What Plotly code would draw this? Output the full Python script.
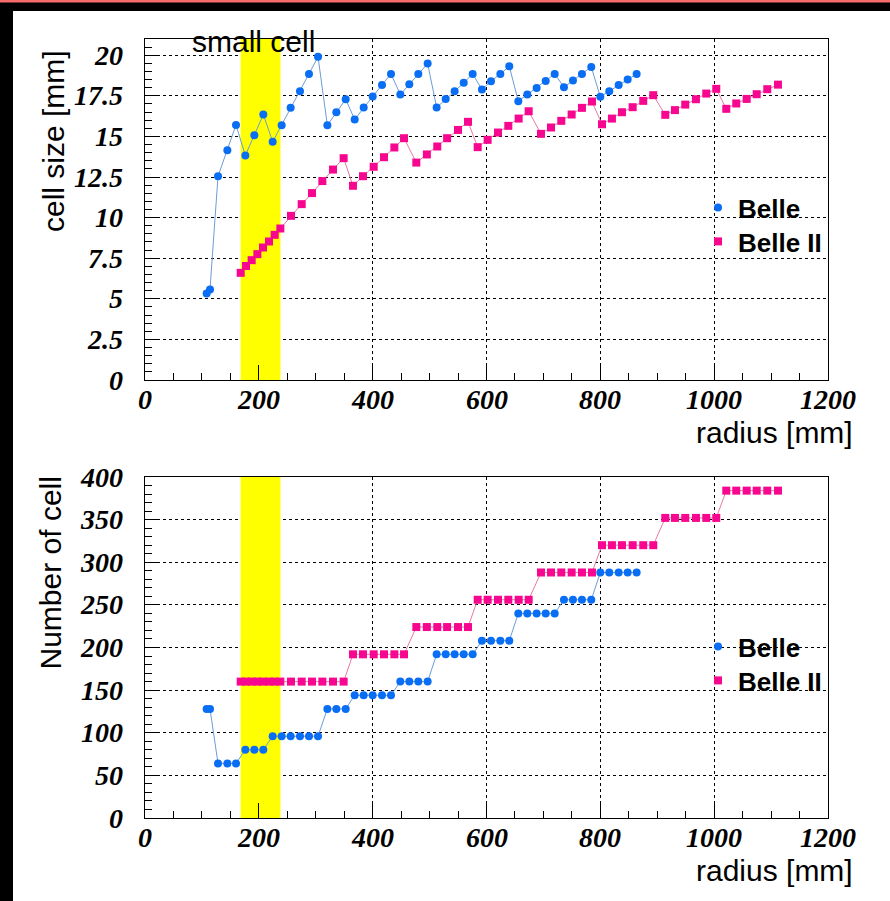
import plotly.graph_objects as go

# ---------------- data ----------------
belle_r = [108.3, 114.2, 128.3, 144.7, 159.9, 176.3, 192.1, 207.9, 224.3, 240.1,
           255.9, 272.3, 288.1, 304.0, 320.4, 336.2, 352.6, 368.4, 384.2, 400.0,
           416.4, 432.2, 448.6, 464.4, 480.2, 496.6, 512.4, 528.3, 544.0, 560.0,
           575.7, 592.0, 607.9, 624.3, 640.0, 655.9, 671.7, 688.1, 704.0, 719.8,
           736.1, 751.9, 767.7, 784.1, 800.0, 815.7, 832.2, 848.0, 863.8]
belle_size = [5.33, 5.58, 12.55, 14.15, 15.71, 13.83, 15.08, 16.35, 14.67, 15.69,
              16.76, 17.78, 18.85, 19.9, 15.69, 16.49, 17.29, 16.04, 16.78, 17.46,
              18.17, 18.85, 17.58, 18.22, 18.85, 19.49, 16.78, 17.31, 17.78, 18.3,
              18.85, 17.89, 18.4, 18.85, 19.32, 17.17, 17.58, 17.99, 18.42, 18.85,
              18.03, 18.44, 18.85, 19.28, 17.44, 17.78, 18.17, 18.5, 18.85]
belle_ncell = [128, 128, 64, 64, 64, 80, 80, 80, 96, 96,
               96, 96, 96, 96, 128, 128, 128, 144, 144, 144,
               144, 144, 160, 160, 160, 160, 192, 192, 192, 192,
               192, 208, 208, 208, 208, 240, 240, 240, 240, 240,
               256, 256, 256, 256, 288, 288, 288, 288, 288]

belle2_r = [168.1, 177.5, 187.4, 197.4, 207.3, 217.9, 227.8, 237.8, 256.5, 275.3,
            293.4, 311.6, 330.3, 349.0, 365.4, 383.0, 401.8, 419.9, 438.1, 455.1,
            476.7, 495.2, 513.5, 530.8, 549.9, 567.5, 584.5, 602.0, 620.2, 638.3,
            656.5, 674.1, 695.7, 713.3, 731.4, 749.6, 767.7, 785.3, 802.9, 820.4,
            838.0, 856.8, 875.4, 893.0, 914.1, 931.1, 949.2, 968.0, 986.1, 1003.7,
            1021.3, 1038.8, 1057.1, 1074.7, 1093.3, 1112.1]
belle2_size = [6.6, 7.02, 7.38, 7.75, 8.16, 8.53, 8.94, 9.33, 10.11, 10.83,
               11.51, 12.25, 12.96, 13.66, 11.96, 12.55, 13.13, 13.72, 14.32, 14.89,
               13.39, 13.89, 14.38, 14.89, 15.4, 15.9, 14.34, 14.79, 15.24, 15.65,
               16.1, 16.55, 15.16, 15.55, 15.96, 16.35, 16.76, 17.15, 15.75, 16.1,
               16.49, 16.8, 17.19, 17.54, 16.33, 16.62, 16.96, 17.29, 17.64, 17.93,
               16.7, 17.03, 17.31, 17.6, 17.91, 18.19]
belle2_ncell = [160, 160, 160, 160, 160, 160, 160, 160, 160, 160,
                160, 160, 160, 160, 192, 192, 192, 192, 192, 192,
                224, 224, 224, 224, 224, 224, 256, 256, 256, 256,
                256, 256, 288, 288, 288, 288, 288, 288, 320, 320,
                320, 320, 320, 320, 352, 352, 352, 352, 352, 352,
                384, 384, 384, 384, 384, 384]

small_cell_range = [168, 238]
x_range = [0, 1200]
size_range = [0, 21]
ncell_range = [0, 400]
x_ticks = [0, 200, 400, 600, 800, 1000, 1200]
size_ticks = [0, 2.5, 5, 7.5, 10, 12.5, 15, 17.5, 20]
ncell_ticks = [0, 50, 100, 150, 200, 250, 300, 350, 400]

# ---------------- style ----------------
W, H = 890, 901
BLUE_M, BLUE_L = "#0a6ef5", "#6b9dd6"
PINK_M, PINK_L = "#f7078f", "#e67aa6"
YELLOW = "#ffff00"
tickfont = dict(family="Liberation Serif", size=28, color="black", weight="bold", style="italic")
labfont = dict(family="Liberation Sans", size=30, color="black")
legfont = dict(family="Liberation Sans", size=26, color="black", weight="bold")

def px_x(p):
    return p / W

def px_y(p):
    return 1 - p / H

fig = go.Figure()

# small-cell bands (drawn as filled traces so they sit above the grid, below the data)
for xa, ya, rng in (("x", "y", size_range), ("x2", "y2", ncell_range)):
    a, b = small_cell_range
    fig.add_trace(go.Scatter(x=[a, b, b, a, a], y=[rng[0], rng[0], rng[1], rng[1], rng[0]],
                             xaxis=xa, yaxis=ya, mode="lines", fill="toself",
                             fillcolor=YELLOW, line=dict(width=0, color=YELLOW),
                             showlegend=False, hoverinfo="skip"))

def add_series(x, y, xa, ya, name, mcol, lcol, sym, legend):
    fig.add_trace(go.Scatter(x=x, y=y, xaxis=xa, yaxis=ya, mode="lines+markers",
                             line=dict(color=lcol, width=1),
                             marker=dict(color=mcol, size=8, symbol=sym, line=dict(width=0)),
                             showlegend=False, hoverinfo="x+y"))
    fig.add_trace(go.Scatter(x=[None], y=[None], xaxis=xa, yaxis=ya, mode="markers",
                             marker=dict(color=mcol, size=8, symbol=sym, line=dict(width=0)),
                             name=name, legend=legend, showlegend=True))

add_series(belle_r, belle_size, "x", "y", "Belle", BLUE_M, BLUE_L, "circle", "legend")
add_series(belle2_r, belle2_size, "x", "y", "Belle II", PINK_M, PINK_L, "square", "legend3")
add_series(belle_r, belle_ncell, "x2", "y2", "Belle", BLUE_M, BLUE_L, "circle", "legend2")
add_series(belle2_r, belle2_ncell, "x2", "y2", "Belle II", PINK_M, PINK_L, "square", "legend4")

xdom = [px_x(145), px_x(828)]
top_dom = [px_y(380), px_y(39)]
bot_dom = [px_y(818), px_y(477)]

def xaxis_cfg(anchor):
    return dict(domain=xdom, anchor=anchor, range=x_range, tickvals=x_ticks,
                ticks="inside", ticklen=15, tickcolor="black", tickwidth=1,
                minor=dict(dtick=50, tick0=0, ticks="inside", ticklen=7, tickcolor="black", showgrid=False),
                showline=True, linecolor="black", linewidth=1, mirror=True, layer="above traces",
                showgrid=True, gridcolor="black", griddash="dot", gridwidth=1,
                showticklabels=False, zeroline=False, fixedrange=True)

def yaxis_cfg(anchor, dom, rng, tv, minor_dt):
    return dict(domain=dom, anchor=anchor, range=rng, tickvals=tv,
                ticks="inside", ticklen=15, tickcolor="black", tickwidth=1,
                minor=dict(dtick=minor_dt, tick0=0, ticks="inside", ticklen=7, tickcolor="black", showgrid=False),
                showline=True, linecolor="black", linewidth=1, mirror=True, layer="above traces",
                showgrid=True, gridcolor="black", griddash="dot", gridwidth=1,
                showticklabels=False, zeroline=False, fixedrange=True)

shapes = [
    # page frame: black border and red strip
    dict(type="rect", xref="paper", yref="paper", x0=0, x1=1, y0=px_y(11), y1=1,
         fillcolor="black", line=dict(width=0), layer="above"),
    dict(type="rect", xref="paper", yref="paper", x0=0, x1=px_x(13), y0=0, y1=1,
         fillcolor="black", line=dict(width=0), layer="above"),
    dict(type="rect", xref="paper", yref="paper", x0=0, x1=1, y0=px_y(2.5), y1=1,
         fillcolor="#f56b6b", line=dict(width=0), layer="above"),
]

annotations = [
    dict(text="cell size [mm]", xref="paper", yref="paper", x=px_x(54), y=px_y(48),
         xanchor="center", yanchor="top", textangle=-90, showarrow=False, font=labfont),
    dict(text="Number of cell", xref="paper", yref="paper", x=px_x(50), y=px_y(475),
         xanchor="center", yanchor="top", textangle=-90, showarrow=False, font=labfont),
    dict(text="radius [mm]", xref="paper", yref="paper", x=px_x(855), y=px_y(432),
         xanchor="right", yanchor="middle", showarrow=False, font=labfont),
    dict(text="radius [mm]", xref="paper", yref="paper", x=px_x(855), y=px_y(870),
         xanchor="right", yanchor="middle", showarrow=False, font=labfont),
    dict(text="small cell", xref="paper", yref="paper", x=px_x(253), y=px_y(42),
         xanchor="center", yanchor="middle", showarrow=False,
         font=dict(family="Liberation Sans", size=30, color="black")),
]

# tick labels, placed through the axes' own scales
for xr, ylab in (("x", 399), ("x2", 837)):
    for v in x_ticks:
        annotations.append(dict(text=f"{v:g}", xref=xr, yref="paper", x=v, y=px_y(ylab),
                                xanchor="center", yanchor="middle", showarrow=False, font=tickfont))
for yr, tv in (("y", size_ticks), ("y2", ncell_ticks)):
    for v in tv:
        annotations.append(dict(text=f"{v:g}", xref="paper", yref=yr, x=px_x(125), y=v,
                                xanchor="right", yanchor="middle", showarrow=False, font=tickfont))

def leg(ycenter):
    return dict(x=px_x(698), y=px_y(ycenter - 25), xanchor="left", yanchor="top",
                bgcolor="rgba(0,0,0,0)", font=legfont, itemsizing="trace", borderwidth=0)

fig.update_layout(
    width=W, height=H, margin=dict(l=0, r=0, t=0, b=0, pad=0),
    paper_bgcolor="white", plot_bgcolor="white",
    xaxis=xaxis_cfg("y"), yaxis=yaxis_cfg("x", top_dom, size_range, size_ticks, 0.5),
    xaxis2=xaxis_cfg("y2"), yaxis2=yaxis_cfg("x2", bot_dom, ncell_range, ncell_ticks, 10),
    legend=leg(209), legend3=leg(243), legend2=leg(648), legend4=leg(682),
    shapes=shapes, annotations=annotations, showlegend=True,
)

post = ("var s=document.createElement('style');"
        "s.textContent='html,body{margin:0!important;padding:0!important;overflow:hidden!important;}';"
        "document.head.appendChild(s);")

fig.write_html("out.html", config={"displayModeBar": False}, post_script=post)
